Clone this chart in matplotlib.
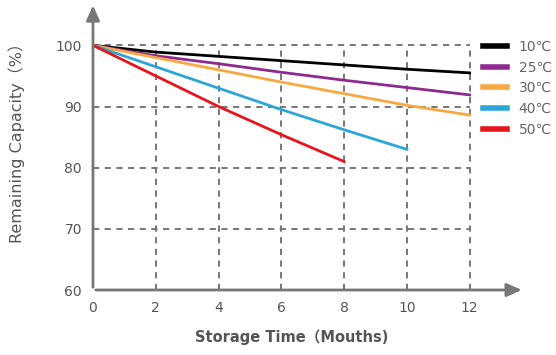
import matplotlib
matplotlib.use('Agg')
import matplotlib.pyplot as plt

plt.rcParams['font.family'] = ['DejaVu Sans', 'Noto Sans CJK SC']

months = [0, 2, 4, 6, 8, 10, 12]
cap_10 = [100, 98.9, 98.2, 97.5, 96.8, 96.1, 95.5]
cap_25 = [100, 98.3, 97.0, 95.6, 94.3, 93.1, 91.9]
cap_30 = [100, 98.0, 96.0, 94.0, 92.1, 90.2, 88.6]
cap_40 = [100, 96.5, 93.0, 89.5, 86.2, 83.0]
cap_50 = [100, 95.0, 90.0, 85.4, 81.0]

series = [
    ('10℃', cap_10, '#000000'),
    ('25℃', cap_25, '#8e2a8e'),
    ('30℃', cap_30, '#f7a941'),
    ('40℃', cap_40, '#2aa6d8'),
    ('50℃', cap_50, '#e8141c'),
]

grey = '#777777'
txt = '#555555'

fig = plt.figure(figsize=(5.56, 3.55), dpi=100)
ax = fig.add_axes([93/556, 65/355, 430/556, 285/355])
ax.set_xlim(0, 13.7)
ax.set_ylim(60, 106.6)

# dashed grid
for x in [2, 4, 6, 8, 10, 12]:
    ax.plot([x, x], [60, 100], color=grey, lw=1.4, ls=(0, (3.2, 2.8)), zorder=1)
for y in [70, 80, 90, 100]:
    ax.plot([0, 12], [y, y], color=grey, lw=1.4, ls=(0, (3.2, 2.8)), zorder=1)

for name, vals, col in series:
    ax.plot(months[:len(vals)], vals, color=col, lw=2, label=name, zorder=3)

for s in ax.spines.values():
    s.set_visible(False)
ax.annotate('', xy=(13.75, 60), xytext=(0, 60),
            arrowprops=dict(arrowstyle='-|>,head_length=0.9,head_width=0.4', color=grey, lw=2),
            annotation_clip=False)
ax.annotate('', xy=(0, 107), xytext=(0, 60),
            arrowprops=dict(arrowstyle='-|>,head_length=0.9,head_width=0.4', color=grey, lw=2),
            annotation_clip=False)

ax.set_xticks(months)
ax.set_yticks([60, 70, 80, 90, 100])
ax.tick_params(length=0, labelsize=10, labelcolor=txt, pad=8)

ax.set_xlabel('Storage Time（Mouths)', fontsize=10.5, fontweight='bold', color=txt)
ax.xaxis.set_label_coords(0.463, -0.14)
ax.set_ylabel('Remaining Capacity（%）', fontsize=11.5, color=txt)
ax.yaxis.set_label_coords(-0.158, 0.53)

leg = ax.legend(loc='upper left', bbox_to_anchor=(0.879, 0.923), frameon=False,
                handlelength=1.73, handletextpad=0.8, labelspacing=0.5, fontsize=10,
                labelcolor='#666666')
for h in leg.get_lines():
    h.set_linewidth(4)

fig.savefig('out.png', dpi=100)
